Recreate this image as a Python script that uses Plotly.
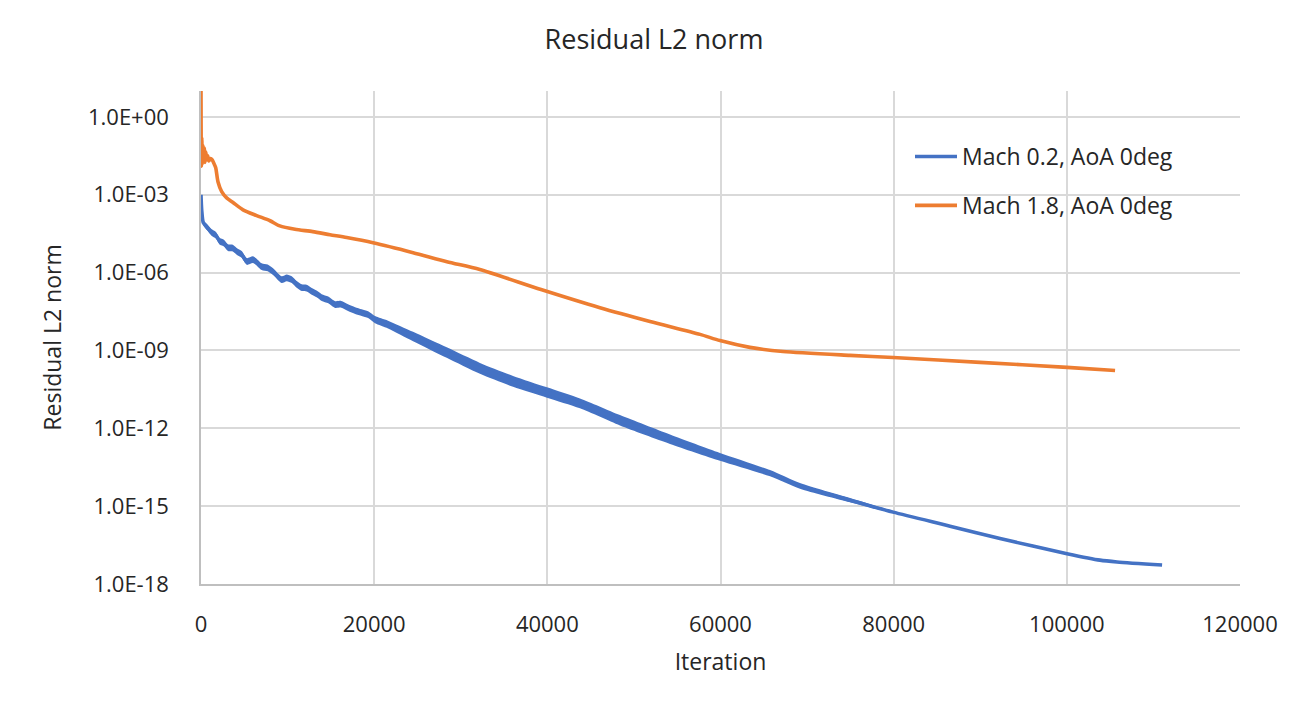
import numpy as np
import plotly.graph_objects as go

# ---------------- data ----------------
# Mach 0.2: iteration, log10(residual) of band centre, half-width of noise band (decades)
blue_iter = [0, 80, 270, 700, 1240, 1700, 2190, 2650, 3120, 3600, 4120, 4700, 5280, 6000, 6500, 7010,
             7700, 8320, 9320, 9900, 10480, 11050, 11630, 12200, 12790, 13350, 13940, 14700, 15480,
             16200, 16980, 17800, 18560, 19300, 20100, 21600, 24490, 28380, 32220, 36040, 39960,
             43770, 48390, 54170, 59940, 65720, 69180, 74960, 79930, 86510, 92280, 100020, 103830,
             105800, 111000]
blue_log = [-3.0, -3.58, -4.08, -4.25, -4.46, -4.55, -4.80, -4.86, -5.04, -5.05, -5.18, -5.30, -5.57,
            -5.50, -5.62, -5.77, -5.82, -5.96, -6.27, -6.20, -6.27, -6.45, -6.58, -6.60, -6.72, -6.82,
            -6.96, -7.05, -7.23, -7.22, -7.35, -7.46, -7.54, -7.62, -7.81, -8.00, -8.46, -9.08, -9.69,
            -10.19, -10.62, -11.04, -11.69, -12.42, -13.10, -13.73, -14.22, -14.77, -15.23, -15.77,
            -16.25, -16.83, -17.08, -17.15, -17.27]
blue_spread = [0.0, 0.05, 0.10, 0.12, 0.13, 0.13, 0.13, 0.13, 0.13, 0.13, 0.13, 0.13, 0.13, 0.13,
               0.13, 0.13, 0.13, 0.13, 0.13, 0.13, 0.13, 0.13, 0.13, 0.13, 0.13, 0.13, 0.13, 0.13,
               0.13, 0.13, 0.13, 0.13, 0.13, 0.13, 0.14, 0.15, 0.18, 0.20, 0.21, 0.21, 0.20, 0.19,
               0.20, 0.18, 0.15, 0.12, 0.11, 0.08, 0.04, 0.02, 0.0, 0.0, 0.0, 0.0, 0.0]

# Mach 1.8: iteration, log10(residual)
orange_iter = [0, 40, 90, 150, 220, 300, 380, 460, 560, 650, 780, 900, 1100, 1300, 1500, 1700, 1960,
               2390, 2960, 3700, 4850, 6430, 7970, 9100, 10860, 12900, 14900, 16830, 19870, 24500,
               28400, 32200, 39270, 46080, 51860, 57640, 59940, 63400, 67220, 74960, 79930, 89980,
               100020, 105570]
orange_log = [1.2, -1.9, -0.8, -1.8, -1.1, -1.7, -1.2, -1.75, -1.35, -1.65, -1.5, -1.7, -1.6, -1.65,
              -1.8, -1.96, -2.5, -2.88, -3.12, -3.3, -3.58, -3.8, -4.0, -4.2, -4.33, -4.42, -4.54,
              -4.65, -4.85, -5.23, -5.58, -5.88, -6.65, -7.35, -7.88, -8.38, -8.62, -8.88, -9.04,
              -9.19, -9.27, -9.46, -9.65, -9.77]

series_names = ["Mach 0.2, AoA 0deg", "Mach 1.8, AoA 0deg"]
y_tick_vals = [1e0, 1e-3, 1e-6, 1e-9, 1e-12, 1e-15, 1e-18]
y_tick_text = ["1.0E+00", "1.0E-03", "1.0E-06", "1.0E-09", "1.0E-12", "1.0E-15", "1.0E-18"]
x_tick_vals = [0, 20000, 40000, 60000, 80000, 100000, 120000]
x_tick_text = ["0", "20000", "40000", "60000", "80000", "100000", "120000"]

BLUE = "#4472C4"
ORANGE = "#ED7D31"
FONT = "Open Sans"
TXT = "#262626"

b_it = np.array(blue_iter, dtype=float)
b_lg = np.array(blue_log)
b_sp = np.array(blue_spread)
band_x = np.concatenate([b_it, b_it[::-1]])
band_y = np.concatenate([10 ** (b_lg + b_sp), (10 ** (b_lg - b_sp))[::-1]])

fig = go.Figure()
fig.add_trace(go.Scatter(x=band_x, y=band_y, fill="toself", fillcolor=BLUE, mode="lines",
                         line=dict(width=0, color=BLUE, shape="spline", smoothing=0.7),
                         hoverinfo="skip", showlegend=False))
fig.add_trace(go.Scatter(x=blue_iter, y=10 ** b_lg, mode="lines", name=series_names[0],
                         legendgroup="a",
                         line=dict(color=BLUE, width=3.6, shape="spline", smoothing=0.7)))
fig.add_trace(go.Scatter(x=orange_iter, y=10 ** np.array(orange_log), mode="lines",
                         name=series_names[1], legendgroup="b",
                         line=dict(color=ORANGE, width=3.6, shape="spline", smoothing=0.7)))

# page body has an 8 px margin, so the figure is 1300x699 placed at (8, 8)
W, H = 1300, 699
L, T = 193, 83
R, B = 68, 123
PW, PH = W - L - R, H - T - B

fig.update_layout(
    width=W, height=H,
    margin=dict(l=L, r=R, t=T, b=B),
    paper_bgcolor="white", plot_bgcolor="white",
    font=dict(family=FONT, color=TXT, size=22),
    title=dict(text="Residual L2 norm", x=(654 - 8) / W, xref="container", xanchor="center",
               y=1 - 32 / H, yref="container", yanchor="middle",
               font=dict(size=27, color=TXT, family=FONT)),
    legend=dict(x=(910 - 8 - L) / PW, y=(576 - 135 + 8) / PH, xanchor="left", yanchor="top",
                bgcolor="rgba(0,0,0,0)", font=dict(size=23, color=TXT, family=FONT),
                tracegroupgap=16, itemwidth=42),
    showlegend=True,
)
fig.update_xaxes(range=[0, 120000], tickvals=x_tick_vals, ticktext=x_tick_text, showgrid=True,
                 gridcolor="#d9d9d9", gridwidth=1.5, showline=True, linecolor="#bfbfbf",
                 linewidth=1.5, zeroline=False, ticks="", ticklabelstandoff=20,
                 tickfont=dict(size=22),
                 title=dict(text="Iteration", font=dict(size=23), standoff=17))
fig.update_yaxes(type="log", range=[-18, 1], tickvals=y_tick_vals, ticktext=y_tick_text,
                 showgrid=True, gridcolor="#d9d9d9", gridwidth=1.5, showline=True,
                 linecolor="#bfbfbf", linewidth=1.5, zeroline=False, ticks="",
                 ticklabelstandoff=26, tickfont=dict(size=22),
                 title=dict(text="Residual L2 norm", font=dict(size=23), standoff=20))

fig.write_html("out.html")
